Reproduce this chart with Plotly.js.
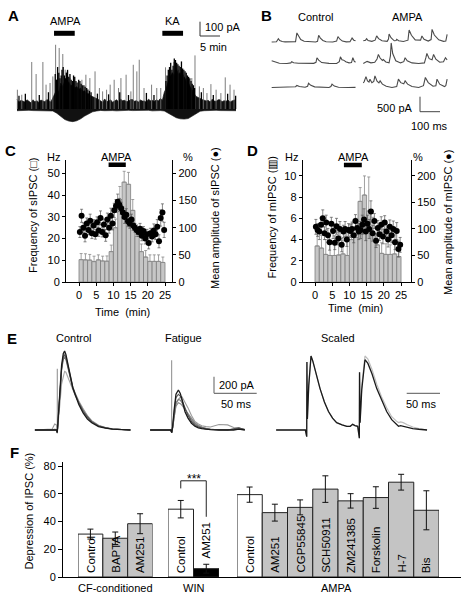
<!DOCTYPE html>
<html><head><meta charset="utf-8">
<script src="https://cdn.plot.ly/plotly-3.0.1.min.js"></script>
<style>html,body{margin:0;padding:0;background:#fff}#chart{width:462px;height:599px}</style>
</head><body><div id="chart"></div>
<script>
// ===== Panel A: long recording (time in min, current in pA) =====
const aLowTime = [0,1,2,3,4,5,6,7,8,9,10,11,12,13,14,15,16,17,18,19,20,21,22,23,24,25,26,27,28,29,30,31,32,33,34,35,36,37,38,39,40,41,42,43,44,45,46,47,48,49,50,51,52,53,54,55];
const aEnvLow = [-12,-10,-13,-9,-11,-12,-10,-13,-11,-14,-30,-55,-75,-86,-90,-84,-70,-50,-32,-20,-14,-10,-12,-9,-11,-13,-10,-12,-9,-11,-10,-12,-11,-9,-13,-10,-11,-14,-30,-48,-62,-70,-72,-68,-50,-30,-16,-12,-10,-12,-9,-11,-12,-10,-11,-12];
const aTopTime = [0,0.5,1,1.5,2,2.5,3,3.5,4,4.5,5,5.5,6,6.5,7,7.5,8,8.5,9,9.5,10,10.5,11,11.5,12,12.5,13,13.5,14,14.5,15,15.5,16,16.5,17,17.5,18,18.5,19,19.5,20,20.5,21,21.5,22,22.5,23,23.5,24,24.5,25,25.5,26,26.5,27,27.5,28,28.5,29,29.5,30,30.5,31,31.5,32,32.5,33,33.5,34,34.5,35,35.5,36,36.5,37,37.5,38,38.5,39,39.5,40,40.5,41,41.5,42,42.5,43,43.5,44,44.5,45,45.5,46,46.5,47,47.5,48,48.5,49,49.5,50,50.5,51,51.5,52,52.5,53,53.5,54,54.5,55];
const aEnvHigh = [70,48,62,55,50,66,58,44,66,52,60,47,64,55,52,68,60,50,80,110,140,120,185,160,200,170,195,165,175,150,160,140,150,125,130,110,110,95,90,80,75,68,60,48,72,55,55,66,48,58,66,52,70,60,62,54,54,68,68,56,60,50,64,57,57,48,70,60,62,54,66,58,75,62,120,150,200,230,260,240,290,250,260,220,230,200,190,160,130,110,90,80,75,68,65,58,62,50,70,58,55,66,66,52,60,56,64,50,58,62,68];
const aSpikeT = [0.1,1.2,3.7,4.8,6.5,7.3,8.3,9.0,9.7,10.6,11.5,12.1,12.6,13.3,14.3,15.4,16.3,17.3,18.3,19.6,20.7,21.5,22.5,23.4,24.4,25.5,26.1,27.4,28.6,29.2,30.1,30.7,31.9,33.8,35.1,36.1,37.3,38.4,39.4,40.5,41.8,42.6,43.9,44.7,45.8,46.8,47.7,48.7,50.0,51.2,52.3,53.5,54.5];
const aSpikeH = [138,102,336,250,336,174,186,233,459,436,393,281,269,221,186,162,209,245,221,269,150,126,138,174,209,150,221,245,126,316,269,352,150,174,150,150,298,221,336,281,245,221,221,383,162,150,114,178,138,114,226,174,138];
const aBurstT = [0.5,2.1,5.6,7.9,9.6,10.2,10.8,11.3,11.9,12.4,13.0,13.6,14.2,14.8,15.5,16.1,16.8,17.5,18.2,20.2,23.0,25.8,28.0,32.5,34.4,37.4,38.0,38.6,39.2,39.8,40.4,41.0,41.6,42.2,42.8,43.4,44.0,44.6,46.3,49.3,52.9,54.9,
  9.9,10.5,11.1,11.6,12.2,12.7,13.3,13.9,14.5,15.1,15.8,16.4,17.1,17.8,18.6,37.7,38.3,38.9,39.5,40.1,40.7,41.3,41.9,42.5,43.1,43.7,44.3];
const aBurstH = [95,110,100,120,250,300,220,280,240,260,230,210,240,200,210,180,170,150,130,110,105,120,100,115,100,200,280,330,310,350,320,300,290,270,240,220,180,150,120,100,110,95,
  210,260,240,300,220,280,250,200,230,190,200,170,160,140,120,240,300,280,360,330,310,340,280,260,230,200,170];
const aAmpaApp = [9.3,14.5];
const aKaApp = [36.5,41.7];

// ===== Panel B: sample traces (ms, pA) =====
const bCtrl1T = [0,25,30,35,42,55,70,100,125,132,140,152,170,200,230,240,246,255,268,285,320,340,347,356,370,390,410,421,430,439];
const bCtrl1V = [0,10,60,110,50,15,5,0,10,300,190,80,25,5,0,20,220,130,50,10,0,30,180,100,30,5,10,130,60,40];
const bCtrl2T = [0,20,40,80,100,105,115,140,180,220,232,237,246,262,300,340,354,360,368,377,388,405,418,425,432,439];
const bCtrl2V = [90,40,10,0,20,60,25,10,0,5,40,190,110,30,5,0,60,220,120,110,60,20,30,190,80,40];
const bCtrl3T = [0,40,80,110,125,132,145,175,188,193,205,225,260,300,310,316,328,350,400,439];
const bCtrl3V = [0,5,0,10,25,66,30,10,40,140,70,20,5,0,30,110,45,10,0,5];
const bAmpa1T = [0,12,17.5,25,45,62,70,80,98,125,132,135,145,162,172,175,185,210,234,240,252,272,300,307,318,340,355,360,372,395,420,432,439];
const bAmpa1V = [40,60,110,50,20,60,200,110,40,20,100,264,140,40,50,88,40,15,60,396,220,70,60,200,90,30,80,418,230,70,20,30,253];
const bAmpa2T = [0,10,20,40,60,72,79,88,100,105,118,135,142,146,154,170,195,212,219,230,255,290,320,328,333,345,360,368,380,400,420,430,439];
const bAmpa2V = [0,40,70,20,40,150,300,180,100,130,50,20,250,680,330,90,20,60,190,90,20,0,20,200,330,160,120,300,140,40,60,190,120];
const bAmpa3T = [0,5,14,22,30,35,45,55,61,72,82,88,100,120,150,175,184,196,212,219,232,255,290,315,325,340,365,380,386,400,425,432,439];
const bAmpa3V = [150,200,360,220,180,275,160,200,385,210,150,220,110,40,0,30,275,160,120,220,110,30,0,60,330,160,40,60,275,110,30,60,275];

// ===== Panel C: sIPSC frequency (Hz) and amplitude (%) =====
const cBinTime = [0.625,1.875,3.125,4.375,5.625,6.875,8.125,9.375,10.625,11.875,13.125,14.375,15.625,16.875,18.125,19.375,20.625,21.875,23.125,24.375];
const cFreq = [10.3,10.2,10.1,9.4,10.2,9.7,9.6,14,25,38,46,45,33,21,14,11.5,9.5,9.5,9.5,9];
const cFreqErr = [2.8,2.8,2.6,2.5,2.3,2.2,2.4,3,4,6,5,5.5,5,4,3.5,3,3,3,3,2.5];
const cAmpT = [0.25,0.75,1.25,1.75,2.25,2.75,3.25,3.75,4.25,4.75,5.25,5.75,6.25,6.75,7.25,7.75,8.25,8.75,9.25,9.75,10.25,10.75,11.25,11.75,12.25,12.75,13.25,13.75,14.25,14.75,15.25,15.75,16.25,16.75,17.25,17.75,18.25,18.75,19.25,19.75,20.25,20.75,21.25,21.75,22.25,22.75,23.25,23.75,24.25,24.75];
const cAmp = [92,122,100,85,108,96,113,90,104,88,110,95,118,92,106,86,115,100,122,108,132,140,148,142,136,128,120,124,112,108,115,104,100,96,92,98,85,94,80,88,72,90,84,95,88,102,75,118,128,96];
const cAmpErr = [10,12,9,11,10,9,12,10,11,9,10,11,13,9,10,11,12,10,14,12,13,12,14,12,11,10,12,11,10,9,10,9,8,9,8,10,9,8,10,9,11,9,10,12,10,13,12,15,16,14];
const cAmpaApp = [8.6,13.6];

// ===== Panel D: mIPSC frequency (Hz) and amplitude (%) =====
const dBinTime = [0.625,1.875,3.125,4.375,5.625,6.875,8.125,9.375,10.625,11.875,13.125,14.375,15.625,16.875,18.125,19.375,20.625,21.875,23.125,24.375];
const dFreq = [3.4,3.2,2.6,2.5,2.5,2.55,2.65,2.5,4.0,4.2,7.6,8.2,6.7,4.5,3.5,2.7,2.6,2.6,2.65,2.4];
const dFreqErr = [1.5,1.2,1.4,1.3,1.3,1.2,1.3,1.4,1.5,1.8,1.3,1.8,3.2,1.6,1.2,1.0,1.0,0.9,0.9,0.8];
const dAmpT = [0.25,0.75,1.25,1.75,2.25,2.75,3.25,3.75,4.25,4.75,5.25,5.75,6.25,6.75,7.25,7.75,8.25,8.75,9.25,9.75,10.25,10.75,11.25,11.75,12.25,12.75,13.25,13.75,14.25,14.75,15.25,15.75,16.25,16.75,17.25,17.75,18.25,18.75,19.25,19.75,20.25,20.75,21.25,21.75,22.25,22.75,23.25,23.75,24.25,24.75];
const dAmp = [104,98,95,108,120,92,112,88,75,110,96,74,105,82,100,70,95,100,80,98,96,100,88,115,102,95,98,108,118,95,110,100,133,92,115,78,102,90,108,86,112,95,80,104,88,100,75,96,62,70];
const dAmpErr = [14,12,15,13,16,12,14,13,15,12,14,13,15,12,14,13,12,14,13,12,12,13,14,12,13,15,16,18,20,17,16,18,20,15,14,13,14,12,15,14,13,15,14,13,14,15,14,16,15,14];
const dAmpaApp = [8.4,13.6];

// ===== Panel E: evoked IPSCs (ms, pA / normalised) =====
const eCtrlT = [-26,-6,-3,-1,0,0.2,0.6,1.5,3,5,7,8.5,10,12,15,18,21,25,30,35,40,48,56,64,75,85];
const eCtrlBlack = [0,0,0,0,-30,0,20,120,420,760,900,930,890,790,620,500,410,300,200,130,85,40,22,10,4,0];
const eCtrlDark1 = [0,0,0,0,-30,0,15,100,380,720,860,880,850,760,610,500,420,320,220,150,95,45,25,12,5,0];
const eCtrlDark2 = [0,0,0,0,-30,0,15,90,360,700,830,850,830,740,600,490,410,320,230,150,100,50,25,12,5,0];
const eCtrlLight1 = [0,0,10,5,-30,0,10,70,300,540,650,690,680,630,540,460,400,330,240,160,100,50,25,12,5,0];
const eCtrlLight2 = [0,10,70,60,-30,0,20,110,400,740,870,900,870,780,620,510,430,340,250,170,110,55,28,14,6,0];
const eCtrlArtT = [0,0], eCtrlArtV = [-40,720];
const eFatT = [-25,-1,0,0.2,1,3,5,7.8,10,12,15.5,19,23,27,31,35,40,45,55,65,72,78,85];
const eFatBlack = [0,0,-30,0,30,250,420,470,430,360,215,140,80,45,25,15,8,4,0,0,0,10,0];
const eFatG1 = [0,0,-30,0,25,220,380,420,400,350,250,170,100,60,35,20,10,5,0,0,15,25,5];
const eFatG2 = [0,0,-30,0,20,180,320,360,350,320,250,180,120,75,45,28,15,8,0,0,10,20,5];
const eFatG3 = [0,0,-30,0,15,160,280,320,310,290,240,190,130,85,55,35,20,10,0,0,5,15,5];
const eFatG4 = [0,0,-30,0,15,150,300,360,385,390,330,260,170,100,70,50,40,35,65,60,30,25,0];
const eFatArtT = [0,0], eFatArtV = [-35,820];
const eScT = [-45,-2,0,0.3,1,3,6.3,9,13,19.6,26,32,38,44,52,59,64,67.6,71,75,77.4,77.7,78.5,81,85.7,90,96,103,110,117.6,125,132,135,138,142,148,156,165,177];
const eScBlack = [0,0,-0.09,0.92,0.15,0.6,1.0,0.93,0.78,0.56,0.38,0.25,0.16,0.1,0.07,0.05,0.05,0.077,0.06,0.05,-0.11,0.78,0.1,0.55,0.95,0.9,0.76,0.56,0.4,0.25,0.14,0.07,0.05,0.06,0.05,0.03,0.02,0.01,0];
const eScGray = [0,0,-0.09,0.92,0.15,0.6,1.0,0.93,0.78,0.56,0.38,0.25,0.16,0.1,0.07,0.05,0.05,0.077,0.06,0.05,-0.11,0.78,0.1,0.6,1.0,0.96,0.82,0.62,0.45,0.3,0.18,0.12,0.1,0.11,0.1,0.07,0.04,0.02,0];

// ===== Panel F: depression of IPSC (%) =====
const fCfLabels = ['Control','BAPTA','AM251'];
const fCfVals = [31,28,38.5];
const fCfErr = [3.6,4.5,7.2];
const fWinLabels = ['Control','AM251'];
const fWinVals = [49,6];
const fWinErr = [6.3,3.2];
const fAmpaLabels = ['Control','AM251','CGP55845','SCH50911','ZM241385','Forskolin','H-7','Bis'];
const fAmpaVals = [59.5,46.5,50.3,63.5,55,57.4,68.5,48.2];
const fAmpaErr = [5.5,6.1,5.4,9.6,5.2,7.8,5.7,14.1];
const fGroupLabels = ['CF-conditioned','WIN','AMPA'];

// ===== helpers =====
const W = 462, H = 599;
const PX = x => x / W;
const PY = y => 1 - y / H;
const dX = (a, b) => [a / W, b / W];
const dY = (top, bottom) => [1 - bottom / H, 1 - top / H];
const FONT = 'Liberation Sans, Arial, Helvetica, sans-serif';

function segs(ts, hs) {
  const x = [], y = [];
  ts.forEach((t, i) => { x.push(t, t, null); y.push(0, hs[i], null); });
  return {x, y};
}
function line(x, y, xa, ya, color, width) {
  return {type:'scatter', mode:'lines', x, y, xaxis:xa, yaxis:ya, line:{color, width}, hoverinfo:'skip'};
}

const traces = [];
// A
traces.push(line(aLowTime, aEnvLow, 'x', 'y', '#111', 0.6));
traces.push(Object.assign(line(aTopTime, aEnvHigh, 'x', 'y', '#111', 0.7), {fill:'tonexty', fillcolor:'#111'}));
const gs = segs(aSpikeT, aSpikeH);
traces.push(line(gs.x, gs.y, 'x', 'y', '#6e6e6e', 0.9));
const bs = segs(aBurstT, aBurstH);
traces.push(line(bs.x, bs.y, 'x', 'y', '#000', 1.3));
// B
const bCol = '#4a4a4a';
traces.push(line(bCtrl1T, bCtrl1V, 'x2', 'y2', bCol, 1.1));
traces.push(line(bCtrl2T, bCtrl2V, 'x2', 'y3', bCol, 1.1));
traces.push(line(bCtrl3T, bCtrl3V, 'x2', 'y4', bCol, 1.1));
traces.push(line(bAmpa1T, bAmpa1V, 'x3', 'y2', bCol, 1.1));
traces.push(line(bAmpa2T, bAmpa2V, 'x3', 'y3', bCol, 1.1));
traces.push(line(bAmpa3T, bAmpa3V, 'x3', 'y4', bCol, 1.1));
// C & D
function freqBars(t, v, e, xa, ya) {
  return {type:'bar', x:t, y:v, width:1.25, xaxis:xa, yaxis:ya,
    marker:{color:'#c6c6c6', line:{color:'#7d7d7d', width:0.8}},
    error_y:{type:'data', symmetric:false, array:e, arrayminus:e.map(() => 0), color:'#8a8a8a', thickness:0.8, width:1.5},
    hoverinfo:'skip'};
}
function ampDots(t, v, e, xa, ya) {
  return {type:'scatter', mode:'markers', x:t, y:v, xaxis:xa, yaxis:ya,
    marker:{color:'#000', size:6},
    error_y:{type:'data', array:e, color:'#555', thickness:0.7, width:1.5},
    hoverinfo:'skip'};
}
traces.push(freqBars(cBinTime, cFreq, cFreqErr, 'x4', 'y5'));
traces.push(ampDots(cAmpT, cAmp, cAmpErr, 'x4', 'y6'));
traces.push(freqBars(dBinTime, dFreq, dFreqErr, 'x5', 'y7'));
traces.push(ampDots(dAmpT, dAmp, dAmpErr, 'x5', 'y8'));
// E
traces.push(line(eCtrlArtT, eCtrlArtV, 'x6', 'y9', '#8a8a8a', 1));
traces.push(line(eCtrlT, eCtrlLight1, 'x6', 'y9', '#a8a8a8', 1.1));
traces.push(line(eCtrlT, eCtrlLight2, 'x6', 'y9', '#9a9a9a', 1.1));
traces.push(line(eCtrlT, eCtrlDark2, 'x6', 'y9', '#6a6a6a', 1.1));
traces.push(line(eCtrlT, eCtrlDark1, 'x6', 'y9', '#555', 1.1));
traces.push(line(eCtrlT, eCtrlBlack, 'x6', 'y9', '#1a1a1a', 1.3));
traces.push(line(eFatArtT, eFatArtV, 'x7', 'y9', '#8a8a8a', 1));
traces.push(line(eFatT, eFatG4, 'x7', 'y9', '#9a9a9a', 1.1));
traces.push(line(eFatT, eFatG3, 'x7', 'y9', '#888', 1.1));
traces.push(line(eFatT, eFatG2, 'x7', 'y9', '#777', 1.1));
traces.push(line(eFatT, eFatG1, 'x7', 'y9', '#555', 1.1));
traces.push(line(eFatT, eFatBlack, 'x7', 'y9', '#1a1a1a', 1.3));
traces.push(line(eScT, eScGray, 'x8', 'y10', '#bdbdbd', 1.2));
traces.push(line(eScT, eScBlack, 'x8', 'y10', '#1a1a1a', 1.3));
// F
traces.push({type:'scatter', x:[], y:[], xaxis:'x9', yaxis:'y11', hoverinfo:'skip'});
function fBars(labels, vals, errs, xa, colorFn) {
  return {type:'bar', x:labels, y:vals, xaxis:xa, yaxis:'y11',
    marker:{color:labels.map(colorFn), line:{color:'#222', width:1}},
    error_y:{type:'data', array:errs, color:'#111', thickness:1, width:3},
    hoverinfo:'skip'};
}
traces.push(fBars(fCfLabels, fCfVals, fCfErr, 'x10', l => l === 'Control' ? '#ffffff' : '#c4c4c4'));
traces.push(fBars(fWinLabels, fWinVals, fWinErr, 'x11', l => l === 'Control' ? '#ffffff' : '#000000'));
traces.push(fBars(fAmpaLabels, fAmpaVals, fAmpaErr, 'x12', l => l === 'Control' ? '#ffffff' : '#c4c4c4'));

// ===== annotations =====
const anns = [];
function ann(text, x, y, o) {
  anns.push(Object.assign({text, x:PX(x), y:PY(y), xref:'paper', yref:'paper', showarrow:false,
    xanchor:'center', yanchor:'middle', font:{family:FONT, size:11, color:'#000'}}, o || {}));
}
function letter(t, x, y) { ann('<b>' + t + '</b>', x, y, {font:{family:FONT, size:15, color:'#000'}}); }
letter('A', 13.3, 15); letter('B', 266, 15); letter('C', 10, 150); letter('D', 252.7, 150); letter('E', 12, 338); letter('F', 14.5, 452);
// A
ann('AMPA', 65, 20.7); ann('KA', 172.5, 20.7);
ann('100 pA', 203, 27.3, {xanchor:'left'}); ann('5 min', 197.5, 46.7, {xanchor:'left'});
// B
ann('Control', 315, 17); ann('AMPA', 407.5, 17);
ann('500 pA', 414.5, 108.3, {xanchor:'right'}); ann('100 ms', 429, 126);
// C
ann('Hz', 53, 156.7); ann('%', 188, 156.7); ann('AMPA', 116.7, 156.7);
ann('Time  (min)', 122, 311.7);
ann('Frequency of sIPSC (□)', 33, 216, {textangle:-90});
ann('Mean amplitude of sIPSC (●)', 215, 218, {textangle:-90});
// D
ann('Hz', 291, 156.7); ann('%', 417.7, 156.7); ann('AMPA', 353, 156.7);
ann('Time  (min)', 355, 308);
ann('Frequency of mIPSC (▥)', 271, 217.5, {textangle:-90});
ann('Mean amplitude of mIPSC (●)', 448, 223, {textangle:-90});
// E
ann('Control', 73, 338); ann('Fatigue', 183.5, 338); ann('Scaled', 338, 338);
ann('200 pA', 236.7, 385); ann('50 ms', 236, 404); ann('50 ms', 421, 404);
// F
ann('Depression of IPSC (%)', 28, 511.5, {textangle:-90});
ann('***', 194, 479, {font:{family:FONT, size:12, color:'#000'}});
ann(fGroupLabels[0], 115, 588.3); ann(fGroupLabels[1], 193, 588.3); ann(fGroupLabels[2], 336, 588.3);
function barLabels(labels, vals, errs, xa) {
  labels.forEach((l, i) => {
    const outside = vals[i] < 15;
    anns.push({text:l, x:l, y: outside ? vals[i] + errs[i] : 0, xref:xa, yref:'y11', showarrow:false,
      textangle:-90, xanchor:'center', yanchor:'bottom', yshift: outside ? 4 : 2,
      font:{family:FONT, size:11.5, color:'#000'}});
  });
}
barLabels(fCfLabels, fCfVals, fCfErr, 'x10');
barLabels(fWinLabels, fWinVals, fWinErr, 'x11');
barLabels(fAmpaLabels, fAmpaVals, fAmpaErr, 'x12');

// ===== shapes (scale bars, drug application bars, significance bracket) =====
const shapes = [];
function pl(x0, y0, x1, y1, color, width) {
  shapes.push({type:'line', xref:'paper', yref:'paper', x0:PX(x0), y0:PY(y0), x1:PX(x1), y1:PY(y1), line:{color, width}});
}
pl(200, 21.7, 200, 36, '#333', 1); pl(200, 36, 220, 36, '#333', 1);
pl(420, 96.7, 420, 111.7, '#444', 1); pl(420, 111.7, 440, 111.7, '#444', 1);
pl(214, 376.7, 214, 393.3, '#777', 1.2); pl(214, 393.3, 256.7, 393.3, '#777', 1.2);
pl(406.7, 393.3, 440, 393.3, '#777', 1.2);
function appBar(xa, r, ypx, w) {
  shapes.push({type:'line', xref:xa, yref:'paper', x0:r[0], x1:r[1], y0:PY(ypx), y1:PY(ypx), line:{color:'#000', width:w}});
}
appBar('x', aAmpaApp, 33.3, 5); appBar('x', aKaApp, 33.3, 5);
appBar('x4', cAmpaApp, 164.7, 4.5); appBar('x5', dAmpaApp, 165, 4.5);
function dl(x0, y0, x1, y1) {
  shapes.push({type:'line', xref:'x11', yref:'y11', x0, y0, x1, y1, line:{color:'#222', width:1}});
}
dl(0, 64, 0, 69.5); dl(0, 69.5, 1, 69.5); dl(1, 69.5, 1, 43.5);

// ===== layout =====
const hid = (dom, rng, extra) => Object.assign({domain:dom, range:rng, visible:false, fixedrange:true}, extra || {});
const axStyle = {showline:true, linecolor:'#000', linewidth:1, ticks:'outside', ticklen:3, tickcolor:'#000',
  showgrid:false, zeroline:false, tickfont:{family:FONT, size:11, color:'#000'}, fixedrange:true};

const layout = {
  width:W, height:H, autosize:false, margin:{l:0, r:0, t:0, b:0, pad:0},
  paper_bgcolor:'#fff', plot_bgcolor:'rgba(0,0,0,0)', showlegend:false, bargap:0,
  font:{family:FONT, size:11, color:'#000'},
  xaxis: hid(dX(15,238), [-0.5,55.5], {anchor:'y'}),
  yaxis: hid(dY(40,125), [-114,493], {anchor:'x'}),
  xaxis2: hid(dX(265,358), [-35,452], {anchor:'y2'}),
  xaxis3: hid(dX(358,450), [-27.7,454], {anchor:'y2'}),
  yaxis2: hid(dY(20.8,43.5), [-50,700], {anchor:'x2'}),
  yaxis3: hid(dY(42.3,65), [-50,700], {anchor:'x2'}),
  yaxis4: hid(dY(66.3,89), [-50,700], {anchor:'x2'}),
  xaxis4: Object.assign({}, axStyle, {domain:dX(66,172.3), range:[-3.78,27.12], anchor:'y5', tickvals:[0,5,10,15,20,25]}),
  yaxis5: Object.assign({}, axStyle, {domain:dY(160,282), range:[0,56.2], anchor:'x4', tickvals:[0,10,20,30,40,50]}),
  yaxis6: Object.assign({}, axStyle, {range:[0,224.8], anchor:'x4', overlaying:'y5', side:'right', tickvals:[0,50,100,150,200]}),
  xaxis5: Object.assign({}, axStyle, {domain:dX(302.7,411), range:[-3.58,27.9], anchor:'y7', tickvals:[0,5,10,15,20,25]}),
  yaxis7: Object.assign({}, axStyle, {domain:dY(160,282), range:[0,11.5], anchor:'x5', tickvals:[0,2,4,6,8,10]}),
  yaxis8: Object.assign({}, axStyle, {range:[0,230], anchor:'x5', overlaying:'y7', side:'right', tickvals:[0,50,100,150,200]}),
  xaxis6: hid(dX(30,135), [-31.7,90.3], {anchor:'y9'}),
  xaxis7: hid(dX(145,250), [-31,91], {anchor:'y9'}),
  xaxis8: hid(dX(270,445), [-54,203.4], {anchor:'y10'}),
  yaxis9: hid(dY(345,440), [-117.6,999.6], {anchor:'x6'}),
  yaxis10: hid(dY(345,440), [-0.135,1.149], {anchor:'x8'}),
  xaxis9: Object.assign({}, axStyle, {domain:dX(63,461), range:[0,1], anchor:'y11', ticks:'', showticklabels:false}),
  yaxis11: Object.assign({}, axStyle, {domain:dY(461.7,577), range:[0,83.3], anchor:'x9', tickvals:[0,20,40,60,80], ticklen:4}),
  xaxis10: hid(dX(78,152.5), [-0.5,2.5], {anchor:'y11', type:'category'}),
  xaxis11: hid(dX(168,219), [-0.5,1.5], {anchor:'y11', type:'category'}),
  xaxis12: hid(dX(237,439), [-0.5,7.5], {anchor:'y11', type:'category'}),
  annotations: anns,
  shapes: shapes
};

Plotly.newPlot('chart', traces, layout, {staticPlot:true, displayModeBar:false});
</script>
</body></html>
